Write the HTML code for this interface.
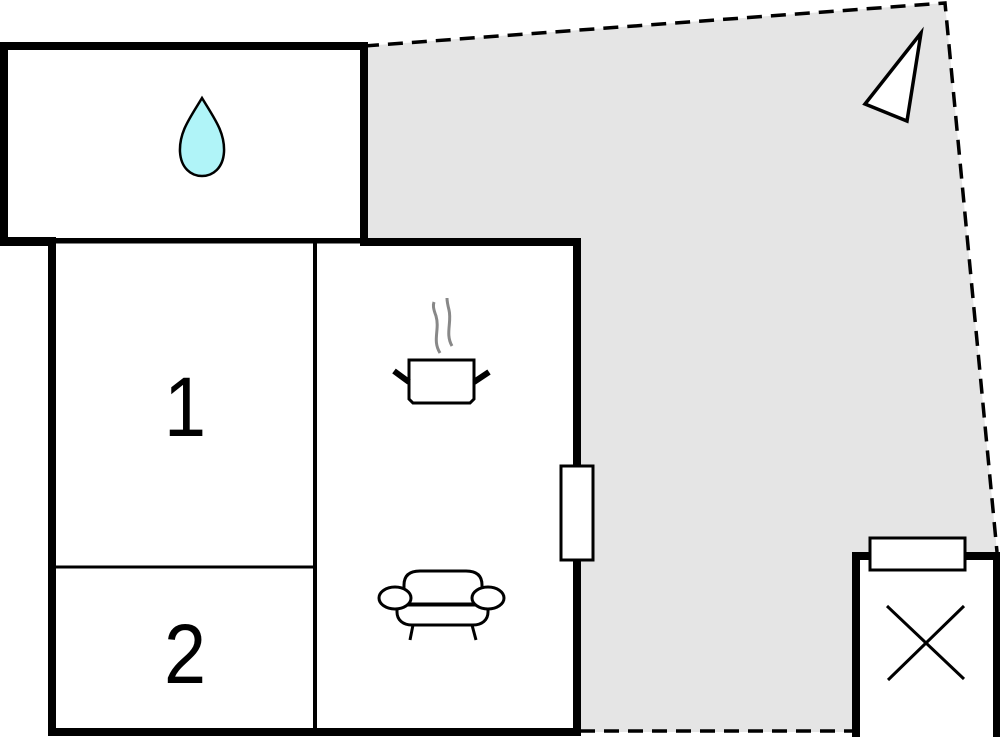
<!DOCTYPE html>
<html><head><meta charset="utf-8"><style>html,body{margin:0;padding:0;background:#fff}svg{display:block}</style></head>
<body>
<svg width="1000" height="737" viewBox="0 0 1000 737" xmlns="http://www.w3.org/2000/svg">
<polygon points="364,46 945,3 997,552 852,552 852,732 577,732 577,242 364,242" fill="#e5e5e5"/>
<polyline points="364,46 945,3 997,552" fill="none" stroke="#000" stroke-width="3.5" stroke-dasharray="15,9"/>
<line x1="580" y1="731" x2="852" y2="731" stroke="#000" stroke-width="3.5" stroke-dasharray="15,9"/>
<rect x="4" y="46" width="360" height="196" fill="#fff" stroke="#000" stroke-width="8"/>
<rect x="52" y="242" width="525" height="490" fill="#fff"/>
<line x1="315" y1="242" x2="315" y2="732" stroke="#000" stroke-width="4"/>
<line x1="52" y1="567" x2="315" y2="567" stroke="#000" stroke-width="3"/>
<line x1="56" y1="242" x2="364" y2="242" stroke="#000" stroke-width="3"/>
<polyline points="52,240 52,732 577,732 577,242 360,242" fill="none" stroke="#000" stroke-width="8"/>
<line x1="0" y1="241" x2="56" y2="241" stroke="#000" stroke-width="8"/>
<rect x="561" y="466" width="32" height="94" fill="#fff" stroke="#000" stroke-width="3"/>
<rect x="856" y="556" width="137" height="181" fill="#fff"/>
<polyline points="856,737 856,556 997,556 997,737" fill="none" stroke="#000" stroke-width="8"/>
<rect x="870" y="538" width="95" height="32" fill="#fff" stroke="#000" stroke-width="3"/>
<line x1="887" y1="606" x2="964" y2="679" stroke="#000" stroke-width="3"/>
<line x1="888" y1="680" x2="964" y2="606" stroke="#000" stroke-width="3"/>
<polygon points="921,33 865,104 907,121" fill="#fff" stroke="#000" stroke-width="3.5"/>
<path d="M202,98 C190,118 179,132 180,152 C181,168 191,176 202,176 C213,176 223,168 224,152 C225,132 214,118 202,98 Z" fill="#b0f4f8" stroke="#000" stroke-width="2.5"/>
<text x="185" y="436" font-family="Liberation Sans, sans-serif" font-size="84" text-anchor="middle" transform="translate(185,0) scale(0.9,1) translate(-185,0)">1</text>
<text x="185" y="683" font-family="Liberation Sans, sans-serif" font-size="84" text-anchor="middle" transform="translate(185,0) scale(0.9,1) translate(-185,0)">2</text>
<path d="M440,353 C432,340 440,330 436,316 C433,308 433,305 434,302" fill="none" stroke="#888" stroke-width="3"/>
<path d="M452,346 C445,334 452,322 449,310 C447,302 447,300 447,298" fill="none" stroke="#888" stroke-width="3"/>
<path d="M409,360 H474 V399 L470,403 H413 L409,399 Z" fill="#fff" stroke="#000" stroke-width="3"/>
<line x1="394" y1="371" x2="409" y2="382" stroke="#000" stroke-width="6"/>
<line x1="474" y1="382" x2="489" y2="372" stroke="#000" stroke-width="6"/>
<path d="M404,605 V585 C404,575 410,571 420,571 H466 C476,571 482,575 482,585 V605" fill="#fff" stroke="#000" stroke-width="3"/>
<path d="M397,605 V612 C397,620 403,625 412,625 H473 C482,625 488,620 488,612 V605 Z" fill="#fff" stroke="#000" stroke-width="3"/>
<line x1="410" y1="604" x2="475" y2="604" stroke="#000" stroke-width="3"/>
<ellipse cx="395" cy="598" rx="16" ry="11" fill="#fff" stroke="#000" stroke-width="3"/>
<ellipse cx="488" cy="598" rx="16" ry="11" fill="#fff" stroke="#000" stroke-width="3"/>
<line x1="413" y1="625" x2="410" y2="640" stroke="#000" stroke-width="3"/>
<line x1="472" y1="625" x2="476" y2="640" stroke="#000" stroke-width="3"/>
</svg>
</body></html>
